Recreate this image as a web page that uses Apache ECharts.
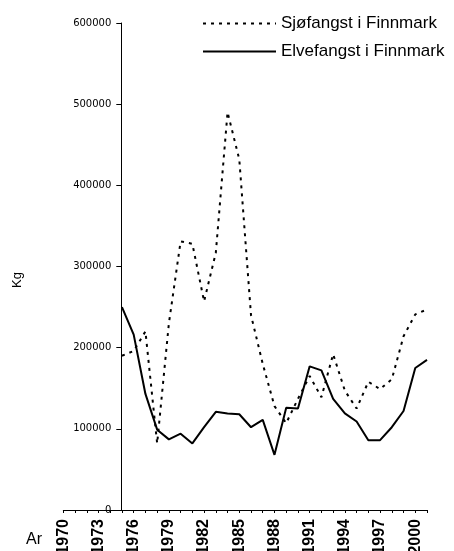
<!DOCTYPE html>
<html>
<head>
<meta charset="utf-8">
<script src="https://cdn.jsdelivr.net/npm/echarts@6/dist/echarts.min.js"></script>
<style>
html,body{margin:0;padding:0;background:#fff;overflow:hidden;}
#c{width:454px;height:551px;}
</style>
</head>
<body>
<div id="c"></div>
<script>
var years = [];
for (var y = 1970; y <= 2001; y++) years.push(String(y));
var seriesNames = ['Sjøfangst i Finnmark', 'Elvefangst i Finnmark'];
// values 1975..2001 (no data 1970-1974)
var sjofangst = [190000, 196000, 220000, 82000, 230000, 331000, 328000, 257000, 317000, 490000,
  432000, 240000, 180000, 128000, 107000, 137000, 165000, 139000, 192000, 147000,
  125000, 158000, 149000, 161000, 214000, 241000, 247000];
var elvefangst = [250000, 216000, 143000, 99000, 87000, 94000, 82000, 102000, 121000, 119000,
  118000, 102000, 111000, 68000, 126000, 125000, 177000, 172000, 137000, 119000,
  109000, 86000, 86000, 102000, 122000, 175000, 185000];
var firstYear = '1975';
var yTicks = { min: 0, max: 600000, interval: 100000 };

function pad(vals) {
  var start = years.indexOf(firstYear);
  var out = [];
  for (var i = 0; i < years.length; i++) {
    out.push(i < start ? null : vals[i - start]);
  }
  return out;
}

var chart = echarts.init(document.getElementById('c'), null, {renderer: 'canvas'});
chart.setOption({
  animation: false,
  backgroundColor: '#fff',
  grid: { left: 63.3, right: 27, top: 23, bottom: 41, containLabel: false, outerBoundsMode: 'none' },
  legend: {
    orient: 'vertical',
    left: 197,
    top: 10,
    itemWidth: 73,
    itemHeight: 14,
    itemGap: 11,
    itemStyle: { opacity: 0 },
    textStyle: { fontFamily: 'Liberation Sans', fontSize: 17, color: '#000' },
    data: seriesNames
  },
  xAxis: {
    type: 'category',
    data: years,
    boundaryGap: false,
    axisLine: { lineStyle: { color: '#000', width: 1 } },
    axisTick: { show: true, interval: 0, length: 3, lineStyle: { color: '#000' } },
    axisLabel: {
      interval: 2,
      rotate: 90,
      margin: 9,
      fontFamily: 'Liberation Sans',
      fontSize: 16,
      fontWeight: 'bold',
      color: '#000'
    },
    splitLine: { show: false }
  },
  yAxis: {
    type: 'value',
    min: yTicks.min,
    max: yTicks.max,
    interval: yTicks.interval,
    offset: -58,
    axisLine: { show: true, lineStyle: { color: '#000', width: 1 } },
    axisTick: { show: true, length: 5, lineStyle: { color: '#000' } },
    axisLabel: {
      margin: 10,
      fontFamily: 'DejaVu Sans',
      fontSize: 10,
      color: '#000',
      formatter: function (v) { return String(v); }
    },
    splitLine: { show: false }
  },
  graphic: [
    { type: 'text', left: 11, top: 272, rotation: Math.PI / 2,
      style: { text: 'Kg', font: '13px "Liberation Sans"', fill: '#000' } },
    { type: 'text', left: 26, top: 532,
      style: { text: 'Ar', font: '16px "Liberation Sans"', fill: '#000' } }
  ],
  series: [
    {
      name: seriesNames[0],
      type: 'line',
      data: pad(sjofangst),
      symbol: 'none',
      connectNulls: false,
      lineStyle: { color: '#000', width: 2, type: [3, 5] },
      itemStyle: { color: '#000' }
    },
    {
      name: seriesNames[1],
      type: 'line',
      data: pad(elvefangst),
      symbol: 'none',
      lineStyle: { color: '#000', width: 2, type: 'solid' },
      itemStyle: { color: '#000' }
    }
  ]
});
</script>
</body>
</html>
